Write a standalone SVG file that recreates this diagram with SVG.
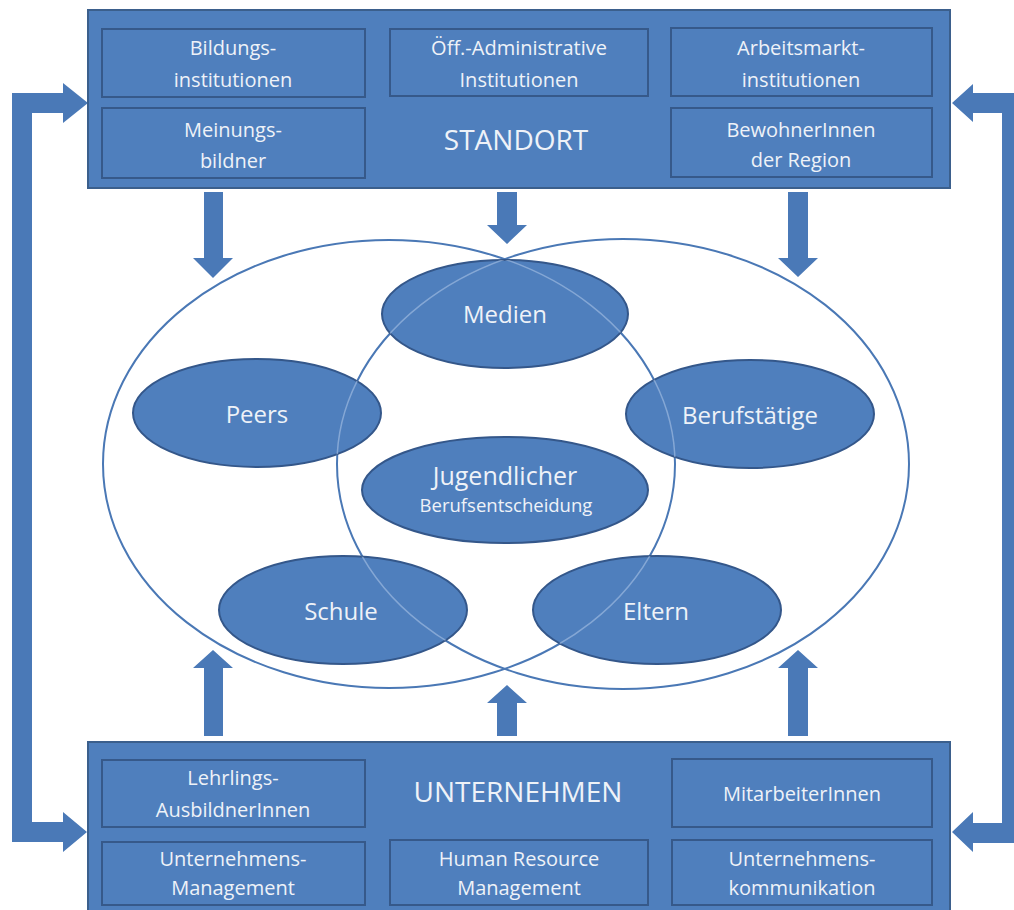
<svg xmlns="http://www.w3.org/2000/svg" width="1014" height="910" viewBox="0 0 1014 910">
<defs>
<style>
.outer{fill:#4f7fbd;stroke:#3b5f8c;stroke-width:2}
.inner{fill:#4f7fbd;stroke:#36598a;stroke-width:2}
.node{fill:#4f7fbd;stroke:#34578a;stroke-width:2}
.ring{fill:none;stroke:#4a78b5;stroke-width:2}
.ringlight{fill:none;stroke:#a9c2e4;stroke-width:1.5;opacity:0.6}
.arrow{fill:#4a79b7}
text{font-family:"Open Sans","Noto Sans","Liberation Sans",sans-serif;fill:#eef2f8;text-anchor:middle}
.t{font-size:20px}
.big{font-size:28px}
.e{font-size:24px}
.j{font-size:25px}
.s{font-size:18.5px}
</style>
<clipPath id="smallclip">
<ellipse cx="505" cy="314" rx="123" ry="54"/>
<ellipse cx="257" cy="413" rx="124" ry="54"/>
<ellipse cx="750" cy="414" rx="124" ry="54"/>
<ellipse cx="505" cy="490" rx="143" ry="53"/>
<ellipse cx="343" cy="610" rx="124" ry="54"/>
<ellipse cx="657" cy="610" rx="124" ry="54"/>
</clipPath>
</defs>
<rect width="1014" height="910" fill="#ffffff"/>

<g id="connectors">
<path class="arrow" d="M12,93 H63 V83 L88,103 L63,123 V113 H32 V822 H63 V812 L87,832 L63,852 V842 H12 Z"/>
<path class="arrow" d="M1016,93 H973 V84 L952,103 L973,122 V113 H1002 V823 H973 V812 L952,832 L973,852 V843 H1016 Z"/>
<path class="arrow" d="M204,192 H223 V258 H233 L213,278 L193,258 H204 Z"/>
<path class="arrow" d="M497,192 H517 V225 H527 L507,244 L487,225 H497 Z"/>
<path class="arrow" d="M788,192 H808 V258 H818 L798,277 L778,258 H788 Z"/>
<path class="arrow" d="M204,736 H223 V668 H233 L213,650 L193,668 H204 Z"/>
<path class="arrow" d="M497,736 H517 V703 H527 L507,685 L487,703 H497 Z"/>
<path class="arrow" d="M788,736 H808 V668 H818 L798,650 L778,668 H788 Z"/>
</g>

<g id="standort">
<rect class="outer" x="88" y="10" width="862" height="178"/>
<text class="big" x="516" y="150">STANDORT</text>
</g>
<g id="bildungsinstitutionen">
<rect class="inner" x="102" y="29" width="263" height="68"/>
<text class="t" x="233" y="55">Bildungs-</text>
<text class="t" x="233" y="87">institutionen</text>
</g>
<g id="oeff-administrative">
<rect class="inner" x="390" y="29" width="258" height="67"/>
<text class="t" x="519" y="55">Öff.-Administrative</text>
<text class="t" x="519" y="87">Institutionen</text>
</g>
<g id="arbeitsmarktinstitutionen">
<rect class="inner" x="671" y="28" width="261" height="68"/>
<text class="t" x="801" y="55">Arbeitsmarkt-</text>
<text class="t" x="801" y="87">institutionen</text>
</g>
<g id="meinungsbildner">
<rect class="inner" x="102" y="108" width="263" height="70"/>
<text class="t" x="233" y="137">Meinungs-</text>
<text class="t" x="233" y="168">bildner</text>
</g>
<g id="bewohnerinnen">
<rect class="inner" x="671" y="108" width="261" height="69"/>
<text class="t" x="801" y="137">BewohnerInnen</text>
<text class="t" x="801" y="167">der Region</text>
</g>

<g id="unternehmen">
<rect class="outer" x="88" y="742" width="862" height="172"/>
<text class="big" x="518" y="802">UNTERNEHMEN</text>
</g>
<g id="lehrlingsausbildner">
<rect class="inner" x="102" y="760" width="263" height="67"/>
<text class="t" x="233" y="785">Lehrlings-</text>
<text class="t" x="233" y="817">AusbildnerInnen</text>
</g>
<g id="mitarbeiterinnen">
<rect class="inner" x="672" y="759" width="260" height="68"/>
<text class="t" x="802" y="801">MitarbeiterInnen</text>
</g>
<g id="unternehmensmanagement">
<rect class="inner" x="102" y="842" width="263" height="63"/>
<text class="t" x="233" y="866">Unternehmens-</text>
<text class="t" x="233" y="895">Management</text>
</g>
<g id="hrm">
<rect class="inner" x="390" y="840" width="258" height="65"/>
<text class="t" x="519" y="866">Human Resource</text>
<text class="t" x="519" y="895">Management</text>
</g>
<g id="unternehmenskommunikation">
<rect class="inner" x="672" y="840" width="260" height="65"/>
<text class="t" x="802" y="866">Unternehmens-</text>
<text class="t" x="802" y="895">kommunikation</text>
</g>

<g id="rings">
<ellipse class="ring" cx="389" cy="464" rx="286" ry="224"/>
<ellipse class="ring" cx="623" cy="464" rx="286" ry="225"/>
</g>

<g id="medien">
<ellipse class="node" cx="505" cy="314" rx="123" ry="54"/>
<text class="e" x="505" y="323">Medien</text>
</g>
<g id="peers">
<ellipse class="node" cx="257" cy="413" rx="124" ry="54"/>
<text class="e" x="257" y="423">Peers</text>
</g>
<g id="berufstaetige">
<ellipse class="node" cx="750" cy="414" rx="124" ry="54"/>
<text class="e" x="750" y="424">Berufstätige</text>
</g>
<g id="jugendlicher">
<ellipse class="node" cx="505" cy="490" rx="143" ry="53"/>
<text class="j" x="505" y="485">Jugendlicher</text>
<text class="s" x="506" y="512">Berufsentscheidung</text>
</g>
<g id="schule">
<ellipse class="node" cx="343" cy="610" rx="124" ry="54"/>
<text class="e" x="341" y="620">Schule</text>
</g>
<g id="eltern">
<ellipse class="node" cx="657" cy="610" rx="124" ry="54"/>
<text class="e" x="656" y="620">Eltern</text>
</g>

<g id="ring-overlay" clip-path="url(#smallclip)">
<ellipse class="ringlight" cx="389" cy="464" rx="286" ry="224"/>
<ellipse class="ringlight" cx="623" cy="464" rx="286" ry="225"/>
</g>
</svg>
